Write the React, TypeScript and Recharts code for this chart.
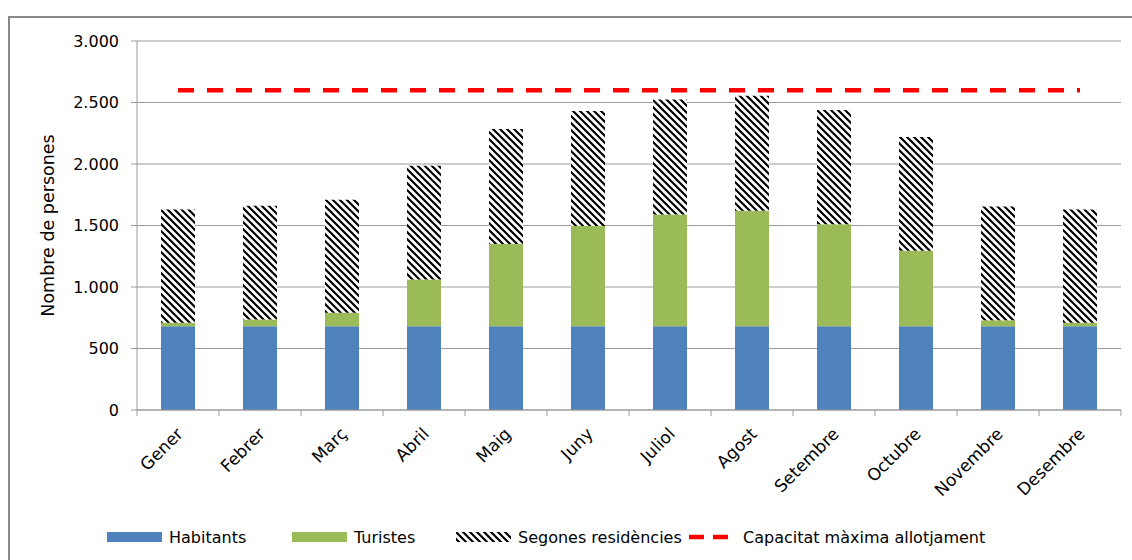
import React from 'react';
import { ComposedChart, Bar, Line, XAxis, YAxis, CartesianGrid, Legend } from 'recharts';

const months = ['Gener', 'Febrer', 'Març', 'Abril', 'Maig', 'Juny', 'Juliol', 'Agost', 'Setembre', 'Octubre', 'Novembre', 'Desembre'];
const habitants = [680, 680, 680, 680, 680, 680, 680, 680, 680, 680, 680, 680];
const turistes = [30, 55, 110, 380, 670, 815, 910, 940, 830, 615, 50, 30];
const segones = [920, 925, 920, 925, 935, 935, 935, 935, 930, 925, 925, 920];
const capacitat = [2600, 2600, 2600, 2600, 2600, 2600, 2600, 2600, 2600, 2600, 2600, 2600];
const yTicks = [0, 500, 1000, 1500, 2000, 2500, 3000];

const seriesNames = {
  habitants: 'Habitants',
  turistes: 'Turistes',
  segones: 'Segones residències',
  capacitat: 'Capacitat màxima allotjament',
};

const data = months.map((m, i) => ({
  month: m,
  habitants: habitants[i],
  turistes: turistes[i],
  segones: segones[i],
  capacitat: capacitat[i],
}));

const FONT = '"DejaVu Sans", sans-serif';
const AXIS = '#9a9a9a';
const BAND = 82;

const fmt = (n: number) =>
  n >= 1000 ? `${Math.floor(n / 1000)}.${String(n % 1000).padStart(3, '0')}` : String(n);

const MonthTick = (props: any) => {
  const { x, y, payload, index } = props;
  const tx = x + 6;
  const ty = y + 19;
  return (
    <g>
      <line x1={x - BAND / 2} x2={x - BAND / 2} y1={y - 6} y2={y} stroke={AXIS} />
      {index === months.length - 1 && (
        <line x1={x + BAND / 2} x2={x + BAND / 2} y1={y - 6} y2={y} stroke={AXIS} />
      )}
      <text
        x={tx}
        y={ty}
        transform={`rotate(-45, ${tx}, ${ty})`}
        textAnchor="end"
        fontSize={17}
        fontFamily={FONT}
        fill="#000"
      >
        {payload.value}
      </text>
    </g>
  );
};

const legendX = [107, 292, 456, 681];

const LegendContent = () => {
  const keys = ['habitants', 'turistes', 'segones', 'capacitat'] as const;
  return (
    <div style={{ position: 'relative', height: 20, width: 1100, fontFamily: FONT, fontSize: 16, color: '#000' }}>
      {keys.map((k, i) => (
        <div key={k} style={{ position: 'absolute', left: legendX[i], top: 0, display: 'flex', alignItems: 'center', height: 20 }}>
          <svg width={55} height={10} style={{ marginRight: 7 }}>
            {k === 'habitants' && <rect width={55} height={10} fill="#4F81BD" />}
            {k === 'turistes' && <rect width={55} height={10} fill="#9BBB59" />}
            {k === 'segones' && <rect width={55} height={10} fill="url(#hatch)" />}
            {k === 'capacitat' && (
              <line x1={8} x2={47} y1={5} y2={5} stroke="#FF0000" strokeWidth={4.5} strokeDasharray="15 9" />
            )}
          </svg>
          <span style={{ whiteSpace: 'nowrap' }}>{seriesNames[k]}</span>
        </div>
      ))}
    </div>
  );
};

export default function App() {
  return (
    <div style={{ position: 'fixed', left: 0, top: 0, width: 1132, height: 560, overflow: 'hidden', background: '#fff' }}>
      <svg width={0} height={0} style={{ position: 'absolute' }}>
        <defs>
          <pattern id="hatch" patternUnits="userSpaceOnUse" width={7} height={7}>
            <rect width={7} height={7} fill="#fff" />
            <path d="M-1,-1 L8,8 M-1,6 L1,8 M6,-1 L8,1" stroke="#000" strokeWidth={2.2} />
          </pattern>
        </defs>
      </svg>
      <div style={{ position: 'absolute', left: 8, top: 16, width: 1200, height: 600, border: '2px solid #898989', boxSizing: 'border-box' }} />
      <div style={{ position: 'absolute', left: 0, top: 0 }}>
        <ComposedChart
          width={1132}
          height={560}
          data={data}
          margin={{ top: 41, right: 11, left: 77, bottom: 40 }}
        >
          <CartesianGrid vertical={false} stroke={AXIS} />
          <XAxis
            dataKey="month"
            height={90}
            axisLine={{ stroke: AXIS }}
            tickLine={false}
            tickSize={6}
            tickMargin={0}
            interval={0}
            tick={<MonthTick />}
          />
          <YAxis
            width={60}
            domain={[0, 3000]}
            ticks={yTicks}
            interval={0}
            tickFormatter={fmt}
            axisLine={{ stroke: AXIS }}
            tickLine={{ stroke: AXIS }}
            tickSize={6}
            tickMargin={12}
            tick={{ fill: '#000', fontSize: 16, fontFamily: FONT }}
            label={{
              content: (p: any) => {
                const vb = p.viewBox;
                const cy = vb.y + vb.height / 2;
                return (
                  <text x={54} y={cy} transform={`rotate(-90, 54, ${cy})`} textAnchor="middle" fontSize={17.5} fontFamily={FONT} fill="#000">
                    Nombre de persones
                  </text>
                );
              },
            }}
          />
          <Legend content={<LegendContent />} wrapperStyle={{ top: 527, left: 0, bottom: 'auto' }} />
          <Bar dataKey="habitants" name={seriesNames.habitants} stackId="a" fill="#4F81BD" barSize={34} isAnimationActive={false} />
          <Bar dataKey="turistes" name={seriesNames.turistes} stackId="a" fill="#9BBB59" barSize={34} isAnimationActive={false} />
          <Bar dataKey="segones" name={seriesNames.segones} stackId="a" fill="url(#hatch)" barSize={34} isAnimationActive={false} />
          <Line
            dataKey="capacitat"
            name={seriesNames.capacitat}
            stroke="#FF0000"
            strokeWidth={4.5}
            strokeDasharray="16 13"
            dot={false}
            activeDot={false}
            isAnimationActive={false}
          />
        </ComposedChart>
      </div>
    </div>
  );
}
